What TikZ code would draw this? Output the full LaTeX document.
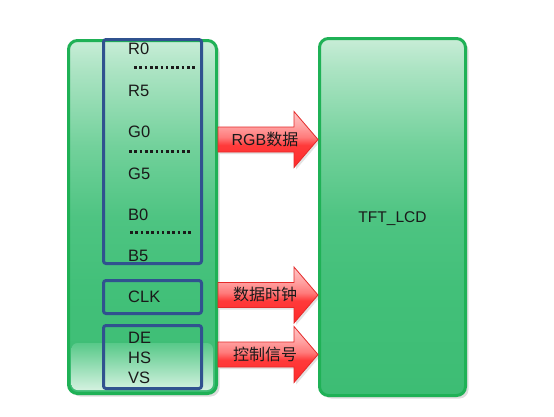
\documentclass[tikz,border=0pt]{standalone}
\usepackage{fontspec}
\setmainfont{Liberation Sans}
\newfontfamily\cjk{Noto Sans CJK SC}
\usetikzlibrary{calc,shadows}
\definecolor{gTop}{HTML}{C8EDD7}
\definecolor{gOne}{HTML}{ADE4C4}
\definecolor{gTwo}{HTML}{72D19B}
\definecolor{gThree}{HTML}{4EC482}
\definecolor{gFour}{HTML}{42C079}
\definecolor{gBot}{HTML}{3DBD74}
\definecolor{gEdge}{HTML}{1FB156}
\definecolor{hlTop}{HTML}{58C989}
\definecolor{hlBot}{HTML}{D4F2E0}
\definecolor{bEdge}{HTML}{30528F}
\definecolor{rA}{HTML}{FF2A2A}
\definecolor{rB}{HTML}{FF3A3A}
\definecolor{rC}{HTML}{FF7A7A}
\definecolor{rD}{HTML}{FFA2A2}
\definecolor{rE}{HTML}{FFC6C6}
\definecolor{rEdge}{HTML}{E52A2A}
\definecolor{txt}{HTML}{1A1A1A}
\pgfdeclareverticalshading{glossgreen}{100bp}{color(0bp)=(gBot); color(25bp)=(gBot); color(40bp)=(gFour); color(50bp)=(gThree); color(60bp)=(gTwo); color(71bp)=(gOne); color(75bp)=(gTop); color(100bp)=(gTop)}
\pgfdeclareverticalshading{glossred}{100bp}{color(0bp)=(rA); color(25bp)=(rA); color(45bp)=(rB); color(52bp)=(rC); color(62bp)=(rD); color(75bp)=(rE); color(100bp)=(rE)}
\tikzset{
  greenbox/.style={shade, shading=glossgreen, draw=gEdge, line width=3pt, rounded corners=9pt,
    drop shadow={shadow xshift=3pt, shadow yshift=-3pt, opacity=0.22, fill=black!60}},
  bluebox/.style={draw=bEdge, line width=3pt, rounded corners=2.5pt, minimum width=98pt},
  sig/.style={anchor=west, inner sep=0pt, text=txt, font=\fontsize{16.5pt}{19pt}\selectfont},
  alabel/.style={inner sep=0pt, text=txt, font=\fontsize{16pt}{19pt}\selectfont},
  redarrow/.style={draw=rEdge, line width=0.8pt, shade, shading=glossred,
    drop shadow={shadow xshift=2pt, shadow yshift=-2pt, opacity=0.18, fill=black!60}},
  dotrow/.style={line width=2.6pt, dash pattern=on 2.6pt off 2.7pt, txt}
}
\begin{document}
\begin{tikzpicture}[x=1pt,y=-1pt]
\useasboundingbox[fill=white] (0,0) rectangle (554,416);
% main blocks
\node[greenbox, minimum width=148pt, minimum height=353pt] (mcu) at (142.5,217) {};
\node[greenbox, minimum width=146pt, minimum height=357pt, text=txt,
      font=\fontsize{15.5pt}{18pt}\selectfont, text depth=0pt] (lcd) at (392.5,217) {TFT\_LCD};
% bottom reflection of the left block
\shade[top color=hlTop, bottom color=hlBot, rounded corners=6pt]
  ($(mcu.south west)+(4.5,-52)$) rectangle ($(mcu.south east)+(-5,-5)$);
% signal groups
\node[bluebox, minimum height=224pt] (rgb) at (152.5,151.5) {};
\node[bluebox, minimum height=33pt] (clk) at (152.5,297) {};
\node[bluebox, minimum height=63pt] (ctl) at (152.5,357) {};
% signal names
\node[sig] (r0) at (128,49) {R0};
\node[sig] (r5) at (128,91) {R5};
\node[sig] (g0) at (128,132) {G0};
\node[sig] (g5) at (128,174) {G5};
\node[sig] (b0) at (128,214.5) {B0};
\node[sig] (b5) at (128,256) {B5};
\node[sig] (clkt) at (128,297) {CLK};
\node[sig] (de) at (128,337.5) {DE};
\node[sig] (hs) at (128,357.5) {HS};
\node[sig] (vs) at (128,377.5) {VS};
\draw[dotrow] (134,67.7) -- (197,67.7);
\draw[dotrow] (129,151.7) -- (192,151.7);
\draw[dotrow] (130,232.7) -- (193,232.7);
% arrows
\coordinate (a1) at (0,139.5);
\coordinate (a2) at (0,295);
\coordinate (a3) at (0,354.5);
\foreach \c in {a1,a2,a3}{
  \draw[redarrow] ($(mcu.east |- \c)+(0,-12.5)$) -- ++(76,0) -- ++(0,-15.5) -- (lcd.west |- \c)
     -- ++(-24,28) -- ++(0,-15.5) -- ++(-76,0) -- cycle;
}
\node[alabel] (l1) at ($(mcu.east |- a1)!0.5!(lcd.west |- a1)+(-3,0)$) {RGB{\cjk 数据}};
\node[alabel] (l2) at ($(mcu.east |- a2)!0.5!(lcd.west |- a2)+(-3,-1)$) {{\cjk 数据时钟}};
\node[alabel] (l3) at ($(mcu.east |- a3)!0.5!(lcd.west |- a3)+(-3,0)$) {{\cjk 控制信号}};
\end{tikzpicture}
\end{document}
